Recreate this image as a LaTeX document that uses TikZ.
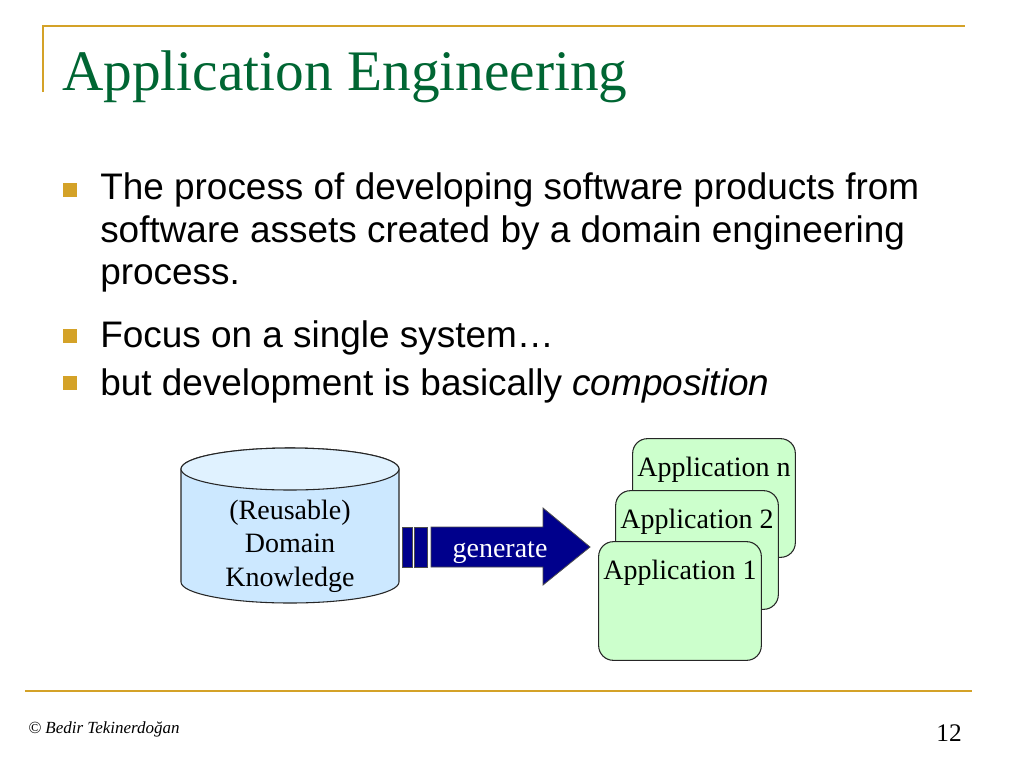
\documentclass[tikz,border=0pt]{standalone}
\usepackage{fontspec}
\setmainfont{Liberation Serif}
\setsansfont{Liberation Sans}
\usepackage{tikz}
\usetikzlibrary{calc}

\definecolor{goldline}{RGB}{212,162,40}
\definecolor{titlegreen}{RGB}{0,102,51}
\definecolor{navyarrow}{RGB}{0,0,140}
\definecolor{appgreen}{RGB}{204,255,204}
\definecolor{cylblue}{RGB}{204,232,255}
\definecolor{cyltopblue}{RGB}{224,242,255}

\begin{document}
\begin{tikzpicture}[
  x=0.75pt,
  y=-0.75pt
]

  \path[use as bounding box,fill=white] (0,0) rectangle (1024,768);

  \tikzstyle{rule}=[draw=goldline,line width=2pt]
  \tikzstyle{titletext}=[anchor=base west,inner sep=0,text=titlegreen,font=\fontsize{43pt}{48pt}\selectfont]
  \tikzstyle{bulletsq}=[rectangle,fill=goldline,minimum size=10pt,inner sep=0]
  \tikzstyle{bodytext}=[anchor=base west,inner sep=0,font=\sffamily\fontsize{27.7pt}{32pt}\selectfont]
  \tikzstyle{cylbody}=[draw=black!85,fill=cylblue,line width=0.8pt]
  \tikzstyle{cyltop}=[draw=black!85,fill=cyltopblue,line width=0.8pt]
  \tikzstyle{cyltext}=[align=center,inner sep=0,font=\fontsize{21pt}{25.2pt}\selectfont]
  \tikzstyle{genbar}=[draw=black!70,fill=navyarrow,line width=0.6pt]
  \tikzstyle{gentext}=[anchor=base,inner sep=0,text=white,font=\fontsize{21pt}{25pt}\selectfont]
  \tikzstyle{appbox}=[draw=black!85,fill=appgreen,line width=0.8pt,rounded corners=11pt,minimum width=122pt,minimum height=89pt,inner sep=0]
  \tikzstyle{applab}=[anchor=base,inner sep=0,font=\fontsize{21pt}{25pt}\selectfont]
  \tikzstyle{foottext}=[anchor=base west,inner sep=0,font=\itshape\fontsize{12.75pt}{15pt}\selectfont]

  % frame
  \draw[rule] (43,92) -- (43,26) -- (965,26);
  \draw[rule] (25,691) -- (972,691);

  % title
  \node[titletext] (title) at (62,90) {Application Engineering};

  % bullets
  \node[bulletsq] (b1) at (70,190) {};
  \node[bulletsq] (b2) at (70,336) {};
  \node[bulletsq] (b3) at (70,383) {};

  \node[bodytext] (l1a) at (100,199) {The process of developing software products from};
  \node[bodytext] (l1b) at (100,242) {software assets created by a domain engineering};
  \node[bodytext] (l1c) at (100,284) {process.};
  \node[bodytext] (l2)  at (100,347) {Focus on a single system\dots};
  \node[bodytext] (l3)  at (100,395) {but development is basically \textit{composition}};

  % domain knowledge cylinder
  \path[cylbody] (181,469) -- (181,582)
    arc[start angle=180,end angle=360,x radius=81.75pt,y radius=15.75pt]
    -- (399,469)
    arc[start angle=0,end angle=180,x radius=81.75pt,y radius=15.75pt] -- cycle;
  \path[cyltop] (290,469) ellipse[x radius=81.75pt,y radius=15.75pt];
  \node[cyltext] (dk) at (290,546) {(Reusable)\\Domain\\Knowledge};

  % generate arrow
  \path[genbar] (402,527) rectangle (412,567);
  \path[genbar] (414,527) rectangle (427,567);
  \path[genbar] (431,527) -- (543,527) -- (543,508) -- (590,547)
    -- (543,585) -- (543,567) -- (431,567) -- cycle;
  \node[gentext] (gen) at (500,557) {generate};

  % applications
  \node[appbox] (appn) at (714,498) {};
  \node[applab] (appnlab) at ($(appn.north)+(0,38)$) {Application n};
  \node[appbox] (app2) at (697,550) {};
  \node[applab] (app2lab) at ($(app2.north)+(0,38)$) {Application 2};
  \node[appbox] (app1) at (680,601) {};
  \node[applab] (app1lab) at ($(app1.north)+(0,38)$) {Application 1};

  % footer
  \node[foottext] (copy) at (28,733) {\textcopyright{} Bedir Tekinerdoğan};
  \node[anchor=base east,inner sep=0,font=\fontsize{19pt}{22pt}\selectfont] (page) at (962,741) {12};

\end{tikzpicture}
\end{document}
